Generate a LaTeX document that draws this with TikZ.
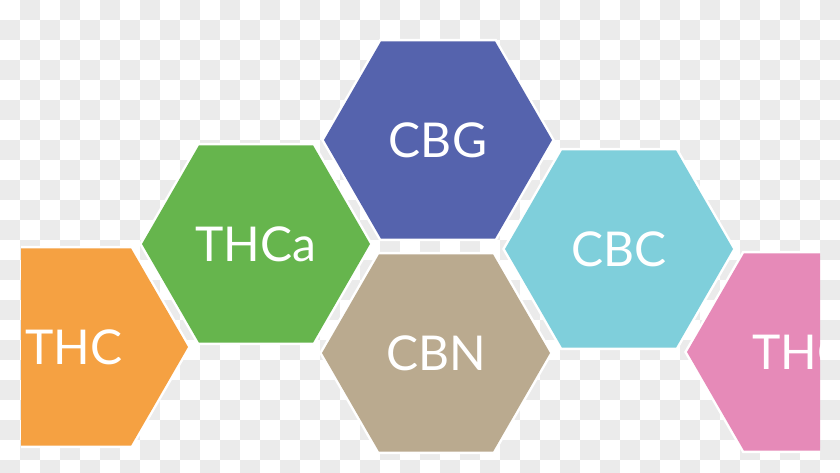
\documentclass[tikz,border=0pt]{standalone}
\usepackage{fontspec}
\usetikzlibrary{shapes.geometric}
\newfontfamily\hexfont{Lato}
\definecolor{thcorange}{RGB}{245,161,66}
\definecolor{thcagreen}{RGB}{102,181,77}
\definecolor{cbgblue}{RGB}{85,99,173}
\definecolor{cbntan}{RGB}{186,170,143}
\definecolor{cbccyan}{RGB}{127,207,219}
\definecolor{thcpink}{RGB}{230,138,184}
\definecolor{checkgrey}{RGB}{235,235,235}
\tikzset{
  hexa/.style={
    regular polygon, regular polygon sides=6, minimum size=228pt,
    inner sep=0pt, outer sep=0pt, text=white,
    font=\hexfont\fontsize{48}{48}\selectfont,
    preaction={draw=white, line width=5pt}
  },
  checker/.style={fill=checkgrey},
}
\begin{document}
\begin{tikzpicture}[x=1pt, y=-1pt]
  \useasboundingbox (0,0) rectangle (840,472);
  % transparent background squares
  \begin{scope}
    \clip (0,0) rectangle (840,472);
    \foreach \i in {0,...,41}
      \foreach \j in {0,...,23}
        {\ifodd\numexpr\i+\j\relax
           \fill[checker] (\i*20,\j*20) rectangle ++(20,20);
         \fi}
  \end{scope}
  % hexagons
  \begin{scope}
    \clip (21,0) rectangle (820,472);
    \node[hexa, fill=thcorange] (thc) at (74,347) {THC};
    \node[hexa, fill=thcagreen] (thca) at (256,244) {THCa};
    \node[hexa, fill=cbgblue] (cbg) at (438,140) {CBG};
    \node[hexa, fill=cbntan] (cbn) at (436,353) {CBN};
    \node[hexa, fill=cbccyan] (cbc) at (619,249) {CBC};
    \node[hexa, fill=thcpink] (thcright) at (801,352) {THC};
  \end{scope}
\end{tikzpicture}
\end{document}
